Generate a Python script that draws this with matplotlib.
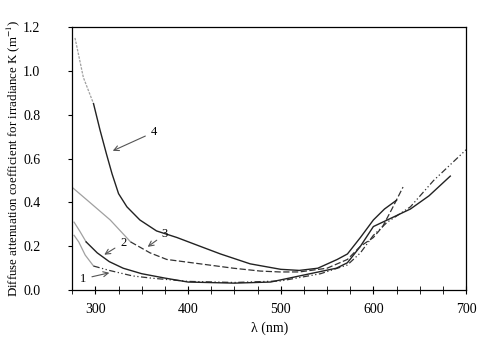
import matplotlib
matplotlib.use("Agg")
import matplotlib.pyplot as plt
from matplotlib.ticker import MultipleLocator

plt.rcParams.update({"font.family": ["Liberation Serif", "DejaVu Serif"],
                     "font.size": 10, "mathtext.fontset": "stix"})

# curva 1 (punto-raya)
lam1 = [277, 282, 289, 298, 315, 340, 360, 400, 450, 500, 543, 572, 586,
        600, 615, 640, 665, 700]
k1 = [0.25, 0.22, 0.16, 0.11, 0.09, 0.065, 0.055, 0.04, 0.035, 0.042,
      0.075, 0.115, 0.17, 0.25, 0.31, 0.38, 0.50, 0.64]
# curva 2 (continua)
lam2 = [277, 283, 290, 302, 315, 330, 350, 375, 400, 450, 489, 543, 560,
        572, 586, 600, 615, 640, 660, 683]
k2 = [0.31, 0.27, 0.22, 0.17, 0.13, 0.10, 0.075, 0.055, 0.037, 0.032,
      0.037, 0.085, 0.10, 0.125, 0.20, 0.29, 0.32, 0.37, 0.43, 0.52]
# curva 3 (discontinua)
lam3 = [276, 294, 316, 338, 359, 377, 395, 449, 478, 499, 520, 550, 572,
        586, 600, 610, 620, 632]
k3 = [0.465, 0.40, 0.32, 0.22, 0.17, 0.14, 0.13, 0.10, 0.087, 0.083, 0.083,
      0.10, 0.14, 0.20, 0.24, 0.29, 0.37, 0.47]
# curva 4 (continua, la más alta)
lam4 = [278, 287, 298, 305, 312, 318, 325, 334, 348, 366, 388, 413, 435,
        467, 500, 520, 540, 561, 572, 586, 600, 612, 625]
k4 = [1.15, 0.97, 0.85, 0.73, 0.62, 0.53, 0.44, 0.38, 0.32, 0.27, 0.24,
      0.20, 0.165, 0.12, 0.095, 0.09, 0.10, 0.14, 0.165, 0.24, 0.32, 0.37,
      0.41]

xticks = [300, 400, 500, 600, 700]
yticks = [0.0, 0.2, 0.4, 0.6, 0.8, 1.0, 1.2]

fig = plt.figure(figsize=(4.88, 3.37), dpi=100)
ax = fig.add_axes([0.148, 0.139, 0.807, 0.781])

gris = "#a0a0a0"
ax.plot(lam1[:4], k1[:4], color=gris, lw=0.9)
ax.plot(lam1[3:], k1[3:], color="#333333", lw=0.9, ls=(0, (5, 2, 1, 2, 1, 2)))
ax.plot(lam2[:3], k2[:3], color=gris, lw=0.9)
ax.plot(lam2[2:], k2[2:], color="#222222", lw=1.0)
ax.plot(lam3[:4], k3[:4], color=gris, lw=0.9)
ax.plot(lam3[3:], k3[3:], color="#333333", lw=0.9, ls=(0, (5, 2)))
ax.plot(lam4[:3], k4[:3], color=gris, lw=0.9, ls=(0, (2, 1)))
ax.plot(lam4[2:], k4[2:], color="#222222", lw=1.0)

flecha = dict(arrowstyle="->", color="#555555", lw=0.8)
ax.annotate("1", xy=(318, 0.082), xytext=(287, 0.052), arrowprops=flecha,
            fontsize=9, ha="center", va="center")
ax.annotate("2", xy=(307, 0.155), xytext=(330, 0.215), arrowprops=flecha,
            fontsize=9, ha="center", va="center")
ax.annotate("3", xy=(354, 0.19), xytext=(375, 0.255), arrowprops=flecha,
            fontsize=9, ha="center", va="center")
ax.annotate("4", xy=(316, 0.63), xytext=(363, 0.72), arrowprops=flecha,
            fontsize=9, ha="center", va="center")

ax.set_xlim(275, 700)
ax.set_ylim(0, 1.2)
ax.set_xticks(xticks)
ax.set_yticks(yticks)
ax.set_yticklabels([f"{v:.1f}" for v in yticks])
ax.xaxis.set_minor_locator(MultipleLocator(25))
ax.tick_params(axis="x", which="both", direction="inout", length=6, pad=6)
ax.tick_params(axis="y", direction="out", length=3, pad=20)
ax.set_xlabel("λ (nm)", labelpad=4)
ax.set_ylabel("Diffuse attenuation coefficient for irradiance K (m$^{-1}$)",
              fontsize=9.3)
ax.yaxis.set_label_coords(-0.128, 0.5)
for s in ax.spines.values():
    s.set_linewidth(0.9)

fig.savefig("out.png", dpi=100, facecolor="white")
